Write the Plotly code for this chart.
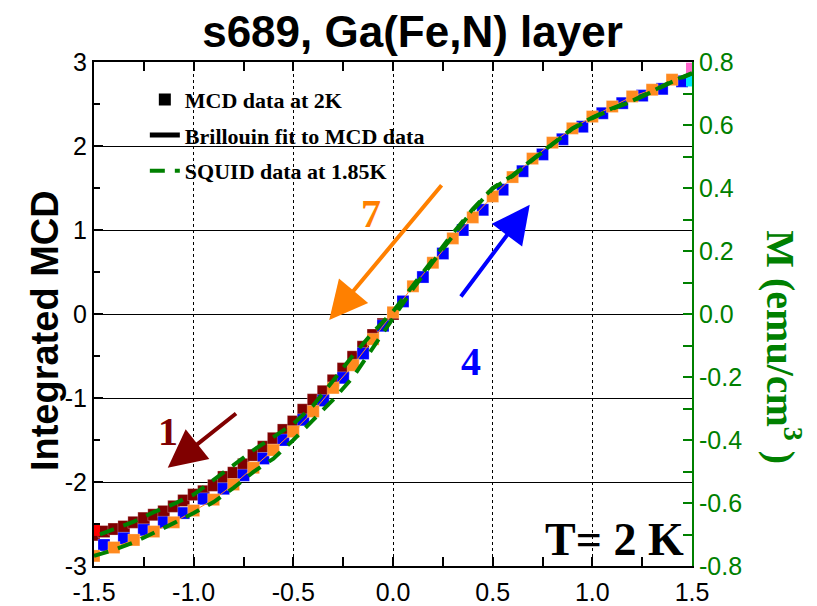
import plotly.graph_objects as go

# ---------------- data ----------------
# branch 1 (maroon) : integrated MCD vs field (T)
b1_x = [-1.50, -1.45, -1.40, -1.35, -1.30, -1.25, -1.20, -1.15, -1.10, -1.05, -1.00,
        -0.95, -0.90, -0.85, -0.80, -0.75, -0.70, -0.65, -0.60, -0.55, -0.50,
        -0.45, -0.40, -0.35, -0.30, -0.25, -0.20, -0.15, -0.10, -0.05, 0.00]
b1_y = [-2.63, -2.59, -2.56, -2.53, -2.48, -2.43, -2.39, -2.35, -2.29, -2.22, -2.15,
        -2.11, -2.04, -1.94, -1.89, -1.79, -1.68, -1.58, -1.48, -1.38, -1.28,
        -1.14, -1.02, -0.92, -0.79, -0.65, -0.51, -0.39, -0.25, -0.12, 0.00]

# branch 4 (blue)
b4_x = [-1.45, -1.35, -1.25, -1.15, -1.05, -0.95, -0.85, -0.75, -0.65, -0.55,
        -0.45, -0.35, -0.25, -0.15, -0.05, 0.05, 0.15, 0.25, 0.35, 0.45,
        0.55, 0.65, 0.75, 0.85, 0.95, 1.05, 1.15, 1.25, 1.35, 1.45]
b4_y = [-2.75, -2.67, -2.57, -2.48, -2.37, -2.20, -2.08, -1.92, -1.72, -1.50,
        -1.26, -1.03, -0.76, -0.47, -0.14, 0.15, 0.44, 0.72, 1.00, 1.24,
        1.48, 1.70, 1.90, 2.08, 2.23, 2.39, 2.51, 2.60, 2.68, 2.77]

# branch 7 (orange)
b7_x = [-1.5, -1.4, -1.3, -1.2, -1.1, -1.0, -0.9, -0.8, -0.7, -0.6, -0.5,
        -0.4, -0.3, -0.2, -0.1, 0.0, 0.1, 0.2, 0.3, 0.4, 0.5,
        0.6, 0.7, 0.8, 0.9, 1.0, 1.1, 1.2, 1.3, 1.4, 1.5]
b7_y = [-2.88, -2.78, -2.69, -2.59, -2.48, -2.34, -2.21, -2.03, -1.83, -1.62, -1.40,
        -1.16, -0.88, -0.61, -0.30, 0.02, 0.33, 0.61, 0.90, 1.15, 1.40,
        1.63, 1.85, 2.04, 2.21, 2.35, 2.47, 2.59, 2.67, 2.79, 2.88]

# extra end points of other branches
end_x = [-1.5, 1.5, 1.5]
end_y = [-2.57, 2.78, 2.92]
end_c = ["#ff0000", "#00e5ff", "#ff66cc"]

# SQUID magnetisation (emu/cm^3), descending branch
sq_dn_x = [1.5, 1.4, 1.3, 1.2, 1.1, 1.0, 0.9, 0.8, 0.7, 0.6, 0.5, 0.4, 0.3, 0.2, 0.1, 0.0,
           -0.1, -0.2, -0.3, -0.4, -0.5, -0.6, -0.7, -0.8, -0.9, -1.0, -1.1, -1.2, -1.3, -1.4, -1.5]
sq_dn_m = [0.765, 0.739, 0.707, 0.677, 0.653, 0.624, 0.589, 0.541, 0.491, 0.440, 0.400, 0.333,
           0.256, 0.173, 0.088, 0.008, -0.058, -0.131, -0.211, -0.290, -0.349, -0.389, -0.432,
           -0.480, -0.528, -0.573, -0.603, -0.629, -0.659, -0.683, -0.707]
# ascending branch
sq_up_x = [-1.5, -1.4, -1.3, -1.2, -1.1, -1.0, -0.9, -0.8, -0.7, -0.6, -0.5, -0.4, -0.3, -0.2,
           -0.1, 0.0, 0.1, 0.2, 0.3, 0.4, 0.5, 0.6, 0.7, 0.8, 0.9, 1.0, 1.1, 1.2, 1.3, 1.4, 1.5]
sq_up_m = [-0.768, -0.749, -0.725, -0.696, -0.664, -0.632, -0.597, -0.552, -0.501, -0.459,
           -0.400, -0.336, -0.272, -0.200, -0.107, -0.013, 0.080, 0.165, 0.250, 0.330, 0.398,
           0.438, 0.489, 0.540, 0.588, 0.622, 0.651, 0.675, 0.705, 0.737, 0.763]

x_ticks = [-1.5, -1.0, -0.5, 0.0, 0.5, 1.0, 1.5]
x_labels = ["-1.5", "-1.0", "-0.5", "0.0", "0.5", "1.0", "1.5"]
y_ticks = [-3, -2, -1, 0, 1, 2, 3]
y_labels = ["-3", "-2", "-1", "0", "1", "2", "3"]
y2_ticks = [-0.8, -0.6, -0.4, -0.2, 0.0, 0.2, 0.4, 0.6, 0.8]
y2_labels = ["-0.8", "-0.6", "-0.4", "-0.2", "0.0", "0.2", "0.4", "0.6", "0.8"]

MAROON = "#800000"
BLUE = "#0000ff"
ORANGE = "#ff8a1f"
GREEN = "#008000"
SANS = "Liberation Sans, Arial, sans-serif"
SERIF = "Liberation Serif, Times New Roman, serif"

fig = go.Figure()

sq = dict(symbol="square", size=12, line=dict(width=0.5, color="rgba(255,255,255,0.5)"))

fig.add_trace(go.Scatter(x=b1_x, y=b1_y, mode="markers", showlegend=False,
                         marker=dict(color=MAROON, **sq)))
fig.add_trace(go.Scatter(x=b4_x, y=b4_y, mode="markers", showlegend=False,
                         marker=dict(color=BLUE, **sq)))
fig.add_trace(go.Scatter(x=b7_x, y=b7_y, mode="lines+markers", showlegend=False,
                         line=dict(color=ORANGE, width=1),
                         marker=dict(color=ORANGE, **sq)))
fig.add_trace(go.Scatter(x=end_x, y=end_y, mode="markers", showlegend=False,
                         marker=dict(color=end_c, symbol="square", size=12)))

# legend-only entries
fig.add_trace(go.Scatter(x=[None], y=[None], mode="markers", name="<b>MCD data at 2K</b>",
                         legendgroup="a", legendrank=1,
                         marker=dict(symbol="square", size=12, color="black")))
fig.add_trace(go.Scatter(x=[None], y=[None], mode="lines", name="<b>Brillouin fit to MCD data</b>",
                         legendgroup="b", legendrank=2,
                         line=dict(color="black", width=5)))

# SQUID on right axis
fig.add_trace(go.Scatter(x=sq_dn_x, y=sq_dn_m, yaxis="y2", mode="lines",
                         name="<b>SQUID data at 1.85K</b>", legendgroup="c", legendrank=3,
                         line=dict(color=GREEN, width=4, dash="15px,10px")))
fig.add_trace(go.Scatter(x=sq_up_x, y=sq_up_m, yaxis="y2", mode="lines", showlegend=False,
                         legendgroup="c",
                         line=dict(color=GREEN, width=4, dash="15px,10px")))

annotations = [
    # arrows (head at x,y ; tail at ax,ay)
    dict(x=-1.13, y=-1.83, ax=-0.78, ay=-1.17, xref="x", yref="y", axref="x", ayref="y",
         text="", showarrow=True, arrowhead=2, arrowwidth=4, arrowsize=1.9,
         arrowcolor=MAROON, standoff=0),
    dict(x=-0.32, y=-0.07, ax=0.25, ay=1.55, xref="x", yref="y", axref="x", ayref="y",
         text="", showarrow=True, arrowhead=2, arrowwidth=4, arrowsize=1.9,
         arrowcolor="#ff8000", standoff=0),
    dict(x=0.686, y=1.30, ax=0.335, ay=0.19, xref="x", yref="y", axref="x", ayref="y",
         text="", showarrow=True, arrowhead=2, arrowwidth=4, arrowsize=1.9,
         arrowcolor=BLUE, standoff=0),
    dict(x=-1.13, y=-1.40, xref="x", yref="y", text="<b>1</b>", showarrow=False,
         font=dict(family=SERIF, size=40, color=MAROON)),
    dict(x=-0.11, y=1.20, xref="x", yref="y", text="<b>7</b>", showarrow=False,
         font=dict(family=SERIF, size=40, color="#ff8000")),
    dict(x=0.39, y=-0.57, xref="x", yref="y", text="<b>4</b>", showarrow=False,
         font=dict(family=SERIF, size=40, color=BLUE)),
    dict(x=0.99, y=0.052, xref="paper", yref="paper", xanchor="right", yanchor="middle",
         text="<b>T= 2 K</b>", showarrow=False,
         font=dict(family=SERIF, size=46, color="black")),
    dict(x=-0.082, y=0.468, xref="paper", yref="paper", xanchor="center", yanchor="middle",
         text="<b>Integrated MCD</b>", textangle=-90, showarrow=False,
         font=dict(family=SANS, size=38, color="black")),
    dict(x=1.153, y=0.433, xref="paper", yref="paper", xanchor="center", yanchor="middle",
         text="<b>M (emu/cm<sup>3</sup> )</b>", textangle=90, showarrow=False,
         font=dict(family=SERIF, size=40, color=GREEN)),
]

# page body has an 8 px margin: figure is 809x598 so the plot sits where the reference's does
fig.update_layout(
    width=809, height=598,
    margin=dict(l=86, r=125, t=54, b=40, autoexpand=False),
    paper_bgcolor="white", plot_bgcolor="white",
    title=dict(text="<b>s689, Ga(Fe,N) layer</b>", x=0.5, xanchor="center",
               y=0.96, yanchor="middle", font=dict(family=SANS, size=44, color="black")),
    xaxis=dict(range=[-1.5, 1.5], tickvals=x_ticks, ticktext=x_labels, automargin=False,
               ticks="inside", ticklen=9, tickwidth=1.5, tickcolor="black",
               ticklabelstandoff=3,
               minor=dict(dtick=0.25, ticks="inside", ticklen=5, tickcolor="black", showgrid=False),
               showgrid=True, gridcolor="black", griddash="dot", gridwidth=1,
               zeroline=False, showline=True, linecolor="black", linewidth=2,
               mirror="allticks", tickfont=dict(family=SANS, size=25, color="black")),
    yaxis=dict(range=[-3, 3], tickvals=y_ticks, ticktext=y_labels, automargin=False,
               ticks="inside", ticklen=9, tickwidth=1.5, tickcolor="black",
               minor=dict(dtick=0.5, ticks="inside", ticklen=6, tickcolor="black", showgrid=False),
               showgrid=True, gridcolor="black", gridwidth=1,
               zeroline=False, showline=True, linecolor="black", linewidth=2,
               tickfont=dict(family=SANS, size=25, color="black")),
    yaxis2=dict(range=[-0.8, 0.8], overlaying="y", side="right", automargin=False,
                tickvals=y2_ticks, ticktext=y2_labels,
                ticks="inside", ticklen=9, tickwidth=1.5, tickcolor=GREEN,
                minor=dict(dtick=0.1, ticks="inside", ticklen=9, tickcolor=GREEN),
                showgrid=False, zeroline=False, showline=True, linecolor=GREEN, linewidth=2,
                tickfont=dict(family=SANS, size=25, color=GREEN)),
    legend=dict(x=0.085, y=0.967, xanchor="left", yanchor="top", bgcolor="rgba(0,0,0,0)",
                font=dict(family=SERIF, size=22, color="black"),
                tracegroupgap=4, traceorder="grouped"),
    annotations=annotations,
    showlegend=True,
)

fig.write_html("out.html")
